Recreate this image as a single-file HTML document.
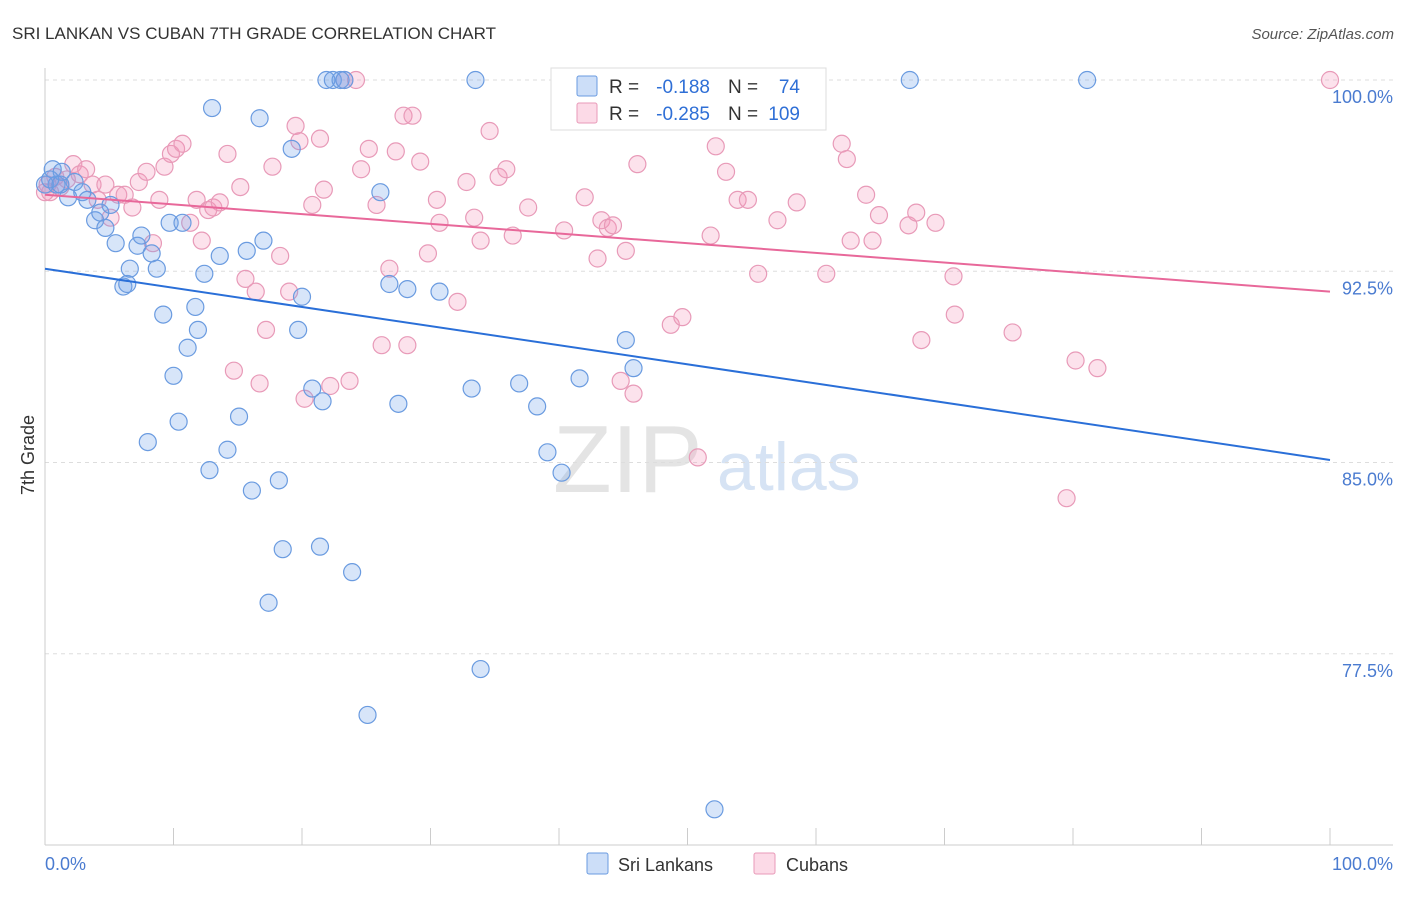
<!DOCTYPE html>
<html><head><meta charset="utf-8"><style>
body{margin:0;background:#fff;font-family:"Liberation Sans",sans-serif}
svg text{font-family:"Liberation Sans",sans-serif}
</style></head><body>
<svg id="chart" width="1406" height="892">
<text x="12" y="39" font-size="17" fill="#333">SRI LANKAN VS CUBAN 7TH GRADE CORRELATION CHART</text>
<text x="1394" y="39" font-size="15" fill="#555" font-style="italic" text-anchor="end">Source: ZipAtlas.com</text>
<g>
<text x="553" y="492" font-size="96" fill="#e4e4e4" font-family="Liberation Serif,serif">ZIP</text>
<text x="717" y="490" font-size="68" fill="#d6e3f4">atlas</text>
</g>
<g id="grid"></g>
<g id="axes"></g>
<g id="pts"></g>
<g id="lines"></g>
<text transform="translate(34,455) rotate(-90)" font-size="18" fill="#333" text-anchor="middle">7th Grade</text>
<text x="45" y="870" font-size="18" fill="#4a7bd0">0.0%</text>
<text x="1393" y="870" font-size="18" fill="#4a7bd0" text-anchor="end">100.0%</text>
<g>
<rect x="551" y="68" width="275" height="62" fill="#fff" stroke="#ddd"/>
<rect x="577" y="76" width="20" height="20" fill="rgba(110,160,235,0.35)" stroke="#6a9be0" rx="2"/>
<rect x="577" y="103" width="20" height="20" fill="rgba(245,150,185,0.35)" stroke="#e89ab8" rx="2"/>
<text x="609" y="93" font-size="19" fill="#333">R = </text>
<text x="710" y="93" font-size="19" fill="#2f6fd6" text-anchor="end">-0.188</text>
<text x="728" y="93" font-size="19" fill="#333">N = </text>
<text x="800" y="93" font-size="19" fill="#2f6fd6" text-anchor="end">74</text>
<text x="609" y="120" font-size="19" fill="#333">R = </text>
<text x="710" y="120" font-size="19" fill="#2f6fd6" text-anchor="end">-0.285</text>
<text x="728" y="120" font-size="19" fill="#333">N = </text>
<text x="800" y="120" font-size="19" fill="#2f6fd6" text-anchor="end">109</text>
</g>
<g>
<rect x="587" y="853" width="21" height="21" fill="rgba(110,160,235,0.35)" stroke="#6a9be0" rx="2"/>
<text x="618" y="871" font-size="18" fill="#333">Sri Lankans</text>
<rect x="754" y="853" width="21" height="21" fill="rgba(245,150,185,0.35)" stroke="#e89ab8" rx="2"/>
<text x="786" y="871" font-size="18" fill="#333">Cubans</text>
</g>
</svg>
<script>
const yTicks=[100,92.5,85,77.5];
const yTickLabels=["100.0%","92.5%","85.0%","77.5%"];
const xTicks=[0,10,20,30,40,50,60,70,80,90,100];
const blueX=[0.6,0.9,1.3,1.8,2.3,2.9,3.3,3.9,4.3,4.7,5.1,5.5,6.1,6.4,6.6,7.2,7.5,8.0,8.3,8.7,9.2,9.7,10.0,10.4,10.7,11.1,11.7,11.9,12.4,12.8,13.0,13.6,14.2,15.1,15.7,16.1,16.7,17.0,17.4,18.2,18.5,19.2,19.7,20.0,20.8,21.4,21.6,21.9,22.4,23.0,23.3,23.9,25.1,26.1,26.8,27.5,28.2,30.7,33.2,33.5,33.9,36.9,38.3,39.1,40.2,41.6,45.2,45.8,52.1,67.3,81.1,0,0.4,1.2];
const blueY=[96.5,95.9,96.4,95.4,96.0,95.6,95.3,94.5,94.8,94.2,95.1,93.6,91.9,92.0,92.6,93.5,93.9,85.8,93.2,92.6,90.8,94.4,88.4,86.6,94.4,89.5,91.1,90.2,92.4,84.7,98.9,93.1,85.5,86.8,93.3,83.9,98.5,93.7,79.5,84.3,81.6,97.3,90.2,91.5,87.9,81.7,87.4,100,100,100,100,80.7,75.1,95.6,92.0,87.3,91.8,91.7,87.9,100,76.9,88.1,87.2,85.4,84.6,88.3,89.8,88.7,71.4,100,100,95.9,96.1,95.9];
const pinkX=[0.4,0.8,1.2,1.7,2.2,2.7,3.2,3.7,4.1,4.7,5.1,5.7,6.2,6.8,7.3,7.9,8.4,8.9,9.3,9.8,10.2,10.7,11.3,11.8,12.2,12.7,13.1,13.6,14.2,14.7,15.2,15.6,16.4,16.7,17.2,17.7,18.3,19.0,19.5,19.8,20.2,20.8,21.4,21.7,22.2,23.3,23.7,24.2,24.6,25.2,25.8,26.2,26.8,27.3,27.9,28.2,28.6,29.2,29.8,30.5,30.7,32.1,32.8,33.4,33.9,34.6,35.3,35.9,36.4,37.6,40.4,42.0,43.0,43.3,43.8,44.2,44.8,45.2,45.8,46.1,48.7,49.6,50.8,51.8,52.2,53.0,53.9,54.7,55.5,57.0,58.5,60.8,62.0,62.4,62.7,63.9,64.4,64.9,67.2,67.8,68.2,69.3,70.7,70.8,75.3,79.5,80.2,81.9,100,0,0.2];
const pinkY=[95.6,96.2,95.8,96.1,96.7,96.3,96.5,95.9,95.3,95.9,94.6,95.5,95.5,95.0,96.0,96.4,93.6,95.3,96.6,97.1,97.3,97.5,94.4,95.3,93.7,94.9,95.0,95.2,97.1,88.6,95.8,92.2,91.7,88.1,90.2,96.6,93.1,91.7,98.2,97.6,87.5,95.1,97.7,95.7,88.0,100,88.2,100,96.5,97.3,95.1,89.6,92.6,97.2,98.6,89.6,98.6,96.8,93.2,95.3,94.4,91.3,96.0,94.6,93.7,98.0,96.2,96.5,93.9,95.0,94.1,95.4,93.0,94.5,94.2,94.3,88.2,93.3,87.7,96.7,90.4,90.7,85.2,93.9,97.4,96.4,95.3,95.3,92.4,94.5,95.2,92.4,97.5,96.9,93.7,95.5,93.7,94.7,94.3,94.8,89.8,94.4,92.3,90.8,90.1,83.6,89.0,88.7,100,95.6,95.9];
const blueTrend=[92.6,85.1];
const pinkTrend=[95.5,91.7];
const NS="http://www.w3.org/2000/svg";
const X0=45,X1=1330,Y0=70,Y1=100,PY0=845,PY1=80;
const sx=v=>X0+(v/100)*(X1-X0);
const sy=v=>PY0+(v-Y0)/(Y1-Y0)*(PY1-PY0);
function mk(tag,attrs,parent){const e=document.createElementNS(NS,tag);for(const k in attrs)e.setAttribute(k,attrs[k]);parent.appendChild(e);return e;}
const grid=document.getElementById('grid'),axes=document.getElementById('axes'),pts=document.getElementById('pts'),lines=document.getElementById('lines');
yTicks.forEach((t,i)=>{
 const l=mk('line',{x1:45,x2:1393,y1:sy(t),y2:sy(t),stroke:'#ddd','stroke-dasharray':'4,4'},grid);
 
 
 const tx=mk('text',{x:1393,y:sy(t)+23,'font-size':18,fill:'#4a7bd0','text-anchor':'end'},grid);
 tx.textContent=yTickLabels[i];
 
 
});
const xa=mk('line',{x1:45,x2:1393,y1:845,y2:845,stroke:'#ccc'},axes);


const ya=mk('line',{x1:45,x2:45,y1:68,y2:845,stroke:'#ccc'},axes);


xTicks.forEach(t=>{
 const l=mk('line',{x1:sx(t),x2:sx(t),y1:828,y2:845,stroke:'#ccc'},axes);
 
 
});
function series(xs,ys,fill,stroke,name){
 xs.forEach((x,i)=>{
  const c=mk('circle',{cx:sx(x),cy:sy(ys[i]),r:8.5,fill:fill,stroke:stroke,'stroke-width':1.2},pts);
  
  
 });
}
series(pinkX,pinkY,'rgba(245,150,185,0.28)','#e89ab8','cuban-point');
series(blueX,blueY,'rgba(110,160,235,0.28)','#6a9be0','sri-lankan-point');
const bl=mk('line',{x1:sx(0),y1:sy(blueTrend[0]),x2:sx(100),y2:sy(blueTrend[1]),stroke:'#2a6fd8','stroke-width':2},lines);


const pl=mk('line',{x1:sx(0),y1:sy(pinkTrend[0]),x2:sx(100),y2:sy(pinkTrend[1]),stroke:'#e8689a','stroke-width':2},lines);


</script>
</body></html>
